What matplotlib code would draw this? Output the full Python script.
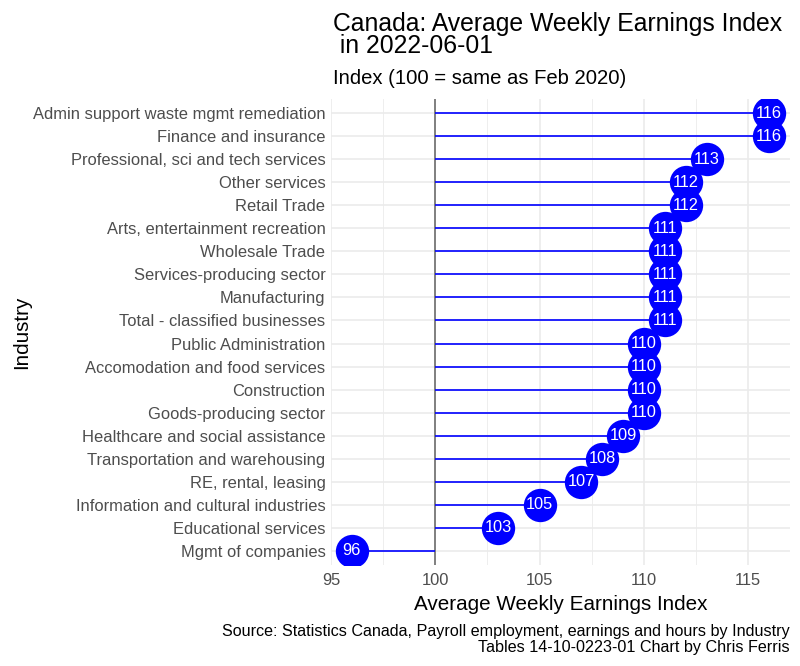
import matplotlib
matplotlib.use("Agg")
import matplotlib.pyplot as plt
from matplotlib.ticker import MultipleLocator

plt.rcParams['font.family'] = ['Liberation Sans', 'DejaVu Sans']

industries = [
    "Admin support waste mgmt remediation",
    "Finance and insurance",
    "Professional, sci and tech services",
    "Other services",
    "Retail Trade",
    "Arts, entertainment recreation",
    "Wholesale Trade",
    "Services-producing sector",
    "Manufacturing",
    "Total - classified businesses",
    "Public Administration",
    "Accomodation and food services",
    "Construction",
    "Goods-producing sector",
    "Healthcare and social assistance",
    "Transportation and warehousing",
    "RE, rental, leasing",
    "Information and cultural industries",
    "Educational services",
    "Mgmt of companies",
]
index_values = [116, 116, 113, 112, 112, 111, 111, 111, 111, 111,
                110, 110, 110, 110, 109, 108, 107, 105, 103, 96]
baseline = 100

fig = plt.figure(figsize=(8, 6.66), dpi=100)
ax = fig.add_axes([331/800, 1 - 564.8/666, (790 - 331)/800, (564.8 - 99.2)/666])

# bottom row first so the first industry ends up on top
ypos = list(range(len(industries)))[::-1]

ax.set_xlim(95, 117)
ax.set_ylim(-0.6, len(industries) - 0.4)
ax.xaxis.set_major_locator(MultipleLocator(5))
ax.xaxis.set_minor_locator(MultipleLocator(2.5))
ax.set_yticks(ypos)
ax.set_yticklabels(industries)

ax.grid(which="major", color="#ebebeb", lw=1.2, zorder=0)
ax.grid(which="minor", axis="x", color="#ebebeb", lw=0.6, zorder=0)
for s in ax.spines.values():
    s.set_visible(False)
ax.tick_params(which="both", length=0)
ax.tick_params(axis="y", labelsize=11.85, labelcolor="#4d4d4d", pad=4)
ax.tick_params(axis="x", labelsize=11.85, labelcolor="#4d4d4d", pad=6)

ax.axvline(baseline, color="#808080", lw=1.4, zorder=2)
ax.hlines(ypos, baseline, index_values, color="#0000ff", lw=1.2, zorder=3)
ax.plot(index_values, ypos, "o", color="#0000ff", ms=24, mec="none", zorder=4)
for v, y in zip(index_values, ypos):
    ax.text(v, y, f"{v}", color="white", ha="center", va="center",
            fontsize=11.8, zorder=5)

ax.set_xlabel("Average Weekly Earnings Index", fontsize=14.9, labelpad=5)
ax.set_ylabel("Industry", fontsize=14.9, labelpad=1.5)

fig.text(333/800, 1 - 12/666, "Canada: Average Weekly Earnings Index\n in 2022-06-01",
         fontsize=17.8, ha="left", va="top", linespacing=0.92)
fig.text(333/800, 1 - 78/666, "Index (100 = same as Feb 2020)",
         fontsize=14.6, ha="left", va="center")
fig.text(790/800, 1 - 624/666,
         "Source: Statistics Canada, Payroll employment, earnings and hours by Industry\n"
         "Tables 14-10-0223-01 Chart by Chris Ferris",
         fontsize=11.6, ha="right", va="top", linespacing=1.12)

fig.savefig("out.png", dpi=100, facecolor="white")
